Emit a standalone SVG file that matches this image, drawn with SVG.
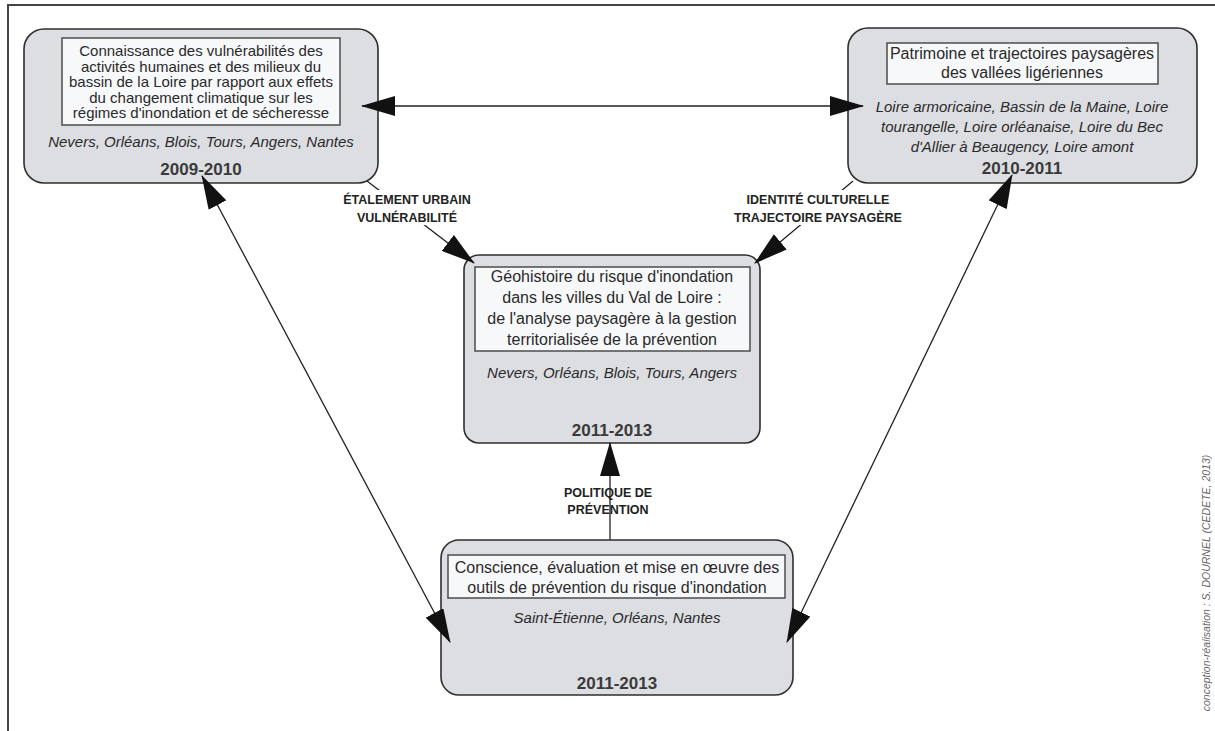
<svg xmlns="http://www.w3.org/2000/svg" width="1215" height="731" viewBox="0 0 1215 731">
<style>
.box{fill:#dddee2;stroke:#2e2e2e;stroke-width:1.6}
.inner{fill:#f7f8fa;stroke:#555;stroke-width:1.6}
.t{font-family:"Liberation Sans",Arial,sans-serif;font-size:16px;fill:#2a2a2a;text-anchor:middle}
.s15{font-size:15px}
.ti{font-style:italic;font-size:15px}
.yr{font-weight:bold;font-size:17px;fill:#3a3a3a}
.lbl{font-family:"Liberation Sans",Arial,sans-serif;font-weight:bold;font-size:12.5px;fill:#222;text-anchor:middle}
.conn{stroke:#222;stroke-width:1.3;fill:none}
.bg{fill:#fff}
</style>
<defs>
<marker id="ah" viewBox="0 0 34 20" refX="33" refY="10" markerWidth="34" markerHeight="20" markerUnits="userSpaceOnUse" orient="auto-start-reverse">
<path d="M0,0 L34,10 L0,20 z" fill="#111"/>
</marker>
</defs>
<rect width="1215" height="731" fill="#fff"/>
<g id="frame" stroke="#444" stroke-width="2" fill="none">
<path d="M8,731 V5 H1215"/>
</g>
<g id="node-2009">
<rect class="box" x="24" y="29" width="354" height="154" rx="20"/>
<rect class="inner" x="62" y="38" width="278" height="87"/>
<text class="t s15" x="201" y="56">Connaissance des vulnérabilités des</text>
<text class="t s15" x="201" y="71.5">activités humaines et des milieux du</text>
<text class="t s15" x="201" y="87">bassin de la Loire par rapport aux effets</text>
<text class="t s15" x="201" y="102.5">du changement climatique sur les</text>
<text class="t s15" x="201" y="118">régimes d'inondation et de sécheresse</text>
<text class="t ti" x="201" y="147">Nevers, Orléans, Blois, Tours, Angers, Nantes</text>
<text class="t yr" x="201" y="175">2009-2010</text>
</g>
<g id="node-2010">
<rect class="box" x="848" y="28" width="349" height="155" rx="20"/>
<rect class="inner" x="887" y="43" width="271" height="41"/>
<text class="t" x="1022" y="58.5">Patrimoine et trajectoires paysagères</text>
<text class="t" x="1022" y="78">des vallées ligériennes</text>
<text class="t ti" x="1022" y="112">Loire armoricaine, Bassin de la Maine, Loire</text>
<text class="t ti" x="1022" y="132">tourangelle, Loire orléanaise, Loire du Bec</text>
<text class="t ti" x="1022" y="152">d'Allier à Beaugency, Loire amont</text>
<text class="t yr" x="1022" y="174">2010-2011</text>
</g>
<g id="node-geohistoire">
<rect class="box" x="464" y="255" width="296" height="188" rx="15"/>
<rect class="inner" x="475" y="267" width="275" height="84"/>
<text class="t" x="612" y="282">Géohistoire du risque d'inondation</text>
<text class="t" x="612" y="303">dans les villes du Val de Loire :</text>
<text class="t" x="612" y="324">de l'analyse paysagère à la gestion</text>
<text class="t" x="612" y="345">territorialisée de la prévention</text>
<text class="t ti" x="612" y="378">Nevers, Orléans, Blois, Tours, Angers</text>
<text class="t yr" x="612" y="436">2011-2013</text>
</g>
<g id="node-conscience">
<rect class="box" x="441" y="540" width="352" height="155" rx="18"/>
<rect class="inner" x="448" y="555" width="337" height="43"/>
<text class="t" x="617" y="573">Conscience, évaluation et mise en œuvre des</text>
<text class="t" x="617" y="593">outils de prévention du risque d'inondation</text>
<text class="t ti" x="617" y="623">Saint-Étienne, Orléans, Nantes</text>
<text class="t yr" x="617" y="689">2011-2013</text>
</g>
<g id="connectors">
<line class="conn" x1="362" y1="106" x2="863" y2="106" marker-start="url(#ah)" marker-end="url(#ah)"/>
<line class="conn" x1="367" y1="181" x2="474" y2="263" marker-end="url(#ah)"/>
<line class="conn" x1="853" y1="181" x2="755" y2="263" marker-end="url(#ah)"/>
<line class="conn" x1="610" y1="540" x2="610" y2="443" marker-end="url(#ah)"/>
<line class="conn" x1="202" y1="176" x2="450" y2="642" marker-start="url(#ah)" marker-end="url(#ah)"/>
<line class="conn" x1="1012" y1="175" x2="787" y2="642" marker-start="url(#ah)" marker-end="url(#ah)"/>
<rect class="bg" x="340" y="190" width="134" height="35"/>
<text class="lbl" x="407" y="203.5">ÉTALEMENT URBAIN</text>
<text class="lbl" x="407" y="221.5">VULNÉRABILITÉ</text>
<rect class="bg" x="733" y="190" width="170" height="35"/>
<text class="lbl" x="818" y="203.5">IDENTITÉ CULTURELLE</text>
<text class="lbl" x="818" y="221.5">TRAJECTOIRE PAYSAGÈRE</text>
<text class="lbl" x="608" y="496.5">POLITIQUE DE</text>
<text class="lbl" x="608" y="513.5">PRÉVENTION</text>
</g>
<text x="1210" y="583" transform="rotate(-90 1210 583)" font-family="'Liberation Sans',Arial,sans-serif" font-size="10.5" font-style="italic" fill="#666" text-anchor="middle">conception-réalisation : S. DOURNEL (CEDETE, 2013)</text>
</svg>
